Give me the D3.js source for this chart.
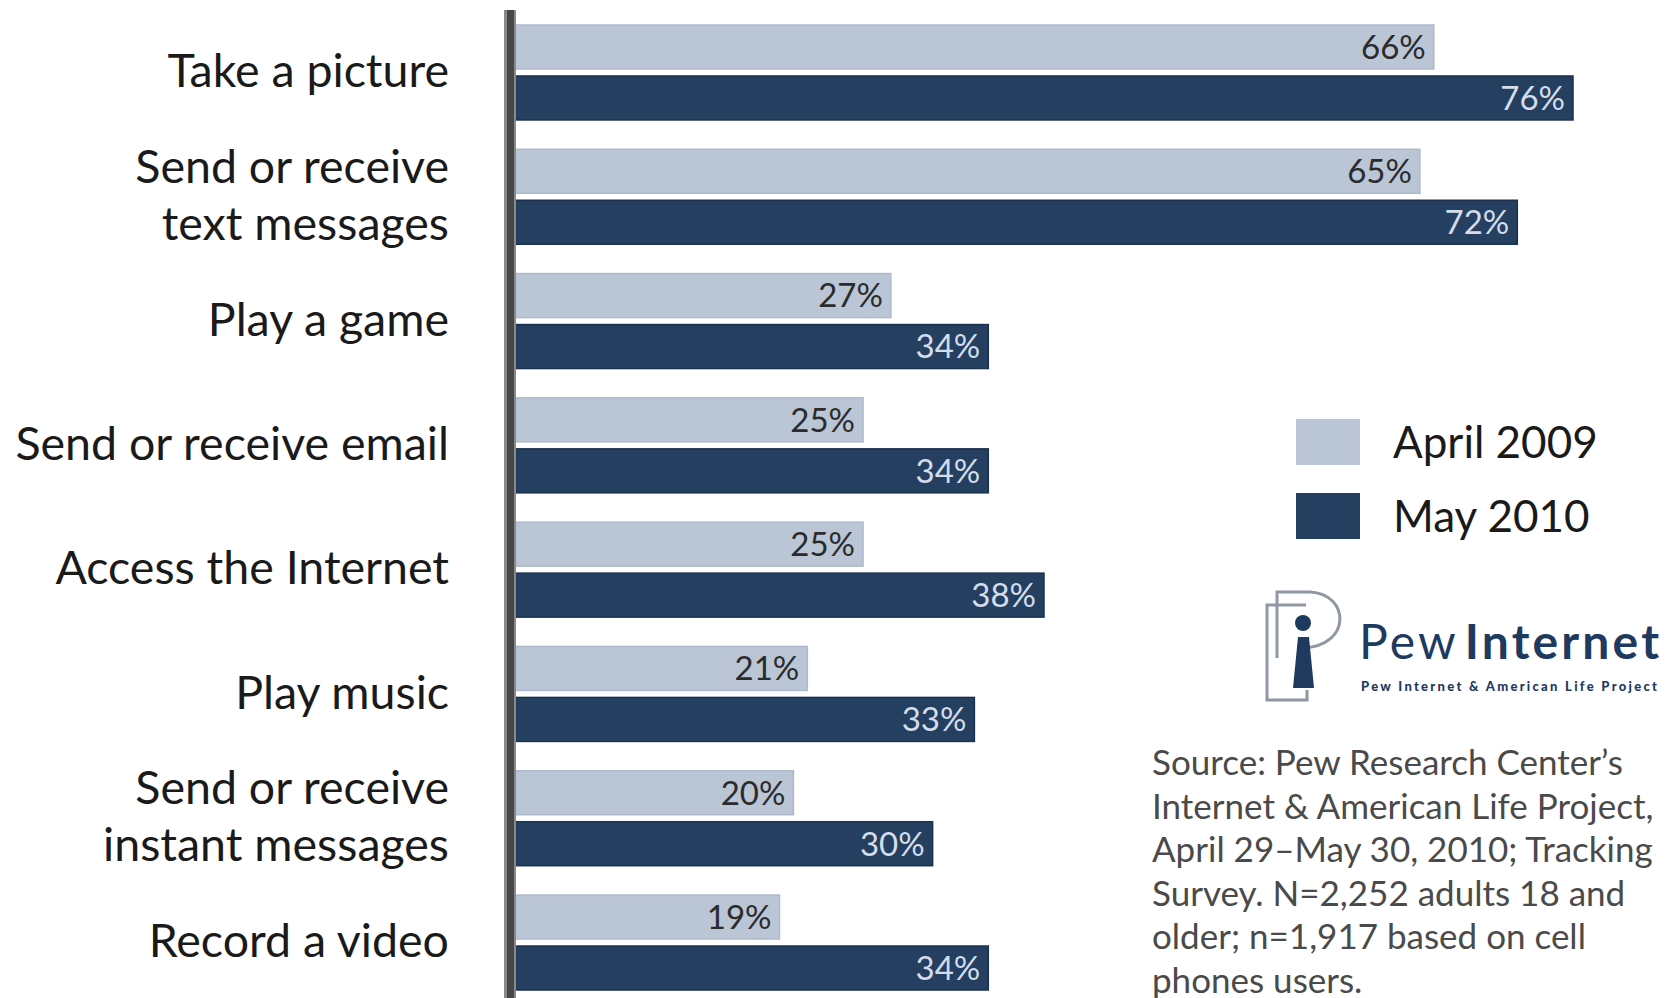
<!DOCTYPE html>
<html>
<head>
<meta charset="utf-8">
<script src="https://cdn.jsdelivr.net/npm/d3@7"></script>
<style>
    body { margin: 0; background: #ffffff; }
    svg { display: block; }
    text { font-family: Lato, "Open Sans", sans-serif; }
</style>
</head>
<body>
<svg id="chart"></svg>
<script>
/* =====
   DATA
==== */

const categories = [
    ["Take a picture"],
    ["Send or receive", "text messages"],
    ["Play a game"],
    ["Send or receive email"],
    ["Access the Internet"],
    ["Play music"],
    ["Send or receive", "instant messages"],
    ["Record a video"]
];
const seriesNames = ["April 2009", "May 2010"];
const april2009 = [66, 65, 27, 25, 25, 21, 20, 19];
const may2010 = [76, 72, 34, 34, 38, 33, 30, 34];

const sourceLines = [
    "Source: Pew Research Center’s",
    "Internet & American Life Project,",
    "April 29–May 30, 2010; Tracking",
    "Survey. N=2,252 adults 18 and",
    "older; n=1,917 based on cell",
    "phones users."
];

/* =====
   SETUP
==== */

const width = 1675;
const height = 998;
const colors = ["#bac5d6", "#243f60"];
const labelColors = ["#2b2b2b", "#d3ddeb"];

const svg = d3.select("#chart")
    .attr("width", width)
    .attr("height", height);

const rows = categories.map((c, i) => ({
    label: c,
    values: [april2009[i], may2010[i]]
}));

// scales
const y = d3.scaleBand()
    .domain(d3.range(categories.length))
    .range([25, 990])
    .paddingInner(0.236)
    .paddingOuter(0);

const ySeries = d3.scaleBand()
    .domain([0, 1])
    .range([0, y.bandwidth()])
    .paddingInner(0.137);

const x = d3.scaleLinear()
    .domain([0, 76])
    .range([515, 1573]);

/* =====
   BARS
==== */

const group = svg.selectAll(".group")
    .data(rows)
    .enter()
    .append("g")
    .attr("class", "group")
    .attr("transform", (d, i) => `translate(0, ${y(i)})`);

group.selectAll("rect")
    .data(d => d.values)
    .enter()
    .append("rect")
    .attr("x", x(0))
    .attr("y", (d, j) => ySeries(j))
    .attr("width", d => x(d) - x(0))
    .attr("height", ySeries.bandwidth())
    .attr("fill", (d, j) => colors[j])
    .attr("stroke", (d, j) => j === 0 ? "#aeb9cb" : "#1b3150")
    .attr("stroke-width", 1.5);

group.selectAll(".value")
    .data(d => d.values)
    .enter()
    .append("text")
    .attr("class", "value")
    .attr("x", d => x(d) - 8)
    .attr("y", (d, j) => ySeries(j) + ySeries.bandwidth() / 2)
    .attr("dy", "0.36em")
    .attr("text-anchor", "end")
    .style("font-size", "33px")
    .style("fill", (d, j) => labelColors[j])
    .text(d => d + "%");

// category labels (one or two lines)
group.each(function (d) {
    const t = d3.select(this).append("text")
        .attr("text-anchor", "end")
        .style("font-size", "46.5px")
        .style("fill", "#1a1a1a");
    const lineH = 57;
    const mid = y.bandwidth() / 2 - 2;
    d.label.forEach((line, k) => {
        t.append("tspan")
            .attr("x", 449)
            .attr("y", mid + (k - (d.label.length - 1) / 2) * lineH)
            .attr("dy", "0.36em")
            .text(line);
    });
});

// vertical axis line
svg.append("rect")
    .attr("x", 504)
    .attr("y", 10)
    .attr("width", 12)
    .attr("height", height - 10)
    .attr("fill", "#8a8a8a");
svg.append("rect")
    .attr("x", 507)
    .attr("y", 10)
    .attr("width", 7)
    .attr("height", height - 10)
    .attr("fill", "#474747");

/* =====
   LEGEND
==== */

const legend = svg.selectAll(".legend")
    .data(seriesNames)
    .enter()
    .append("g")
    .attr("class", "legend")
    .attr("transform", (d, i) => `translate(1296, ${419 + i * 74})`);

legend.append("rect")
    .attr("width", 64)
    .attr("height", 46)
    .attr("fill", (d, i) => colors[i]);

legend.append("text")
    .attr("x", 97)
    .attr("y", 23)
    .attr("dy", "0.36em")
    .style("font-size", "44px")
    .style("fill", "#1a1a1a")
    .text(d => d);

/* =====
   LOGO
==== */

const logo = svg.append("g");

logo.append("path")
    .attr("d", "M1277,658 L1277,592 L1310,592 C1350,594 1352,646 1303,648")
    .attr("fill", "none")
    .attr("stroke", "#8f97a3")
    .attr("stroke-width", 3);
logo.append("path")
    .attr("d", "M1306,605 L1267,605 L1267,700 L1307,700 L1307,690")
    .attr("fill", "none")
    .attr("stroke", "#8f97a3")
    .attr("stroke-width", 3);
logo.append("circle")
    .attr("cx", 1303)
    .attr("cy", 623)
    .attr("r", 8)
    .attr("fill", "#1f3a5f");
logo.append("path")
    .attr("d", "M1298,637 L1309,637 L1314,688 L1293,688 Z")
    .attr("fill", "#1f3a5f");

logo.append("text")
    .attr("x", 1359)
    .attr("y", 659)
    .attr("textLength", 300)
    .style("font-size", "48px")
    .style("fill", "#1f3a5f")
    .html('<tspan style="font-weight:400">Pew</tspan><tspan dx="6" style="font-weight:700">Internet</tspan>');

logo.append("text")
    .attr("x", 1361)
    .attr("y", 691)
    .attr("textLength", 296)
    .style("font-size", "13px")
    .style("font-weight", "900")
    .style("fill", "#1f3a5f")
    .text("Pew Internet & American Life Project");

/* =====
   SOURCE NOTE
==== */

svg.append("text")
    .style("font-size", "35px")
    .style("fill", "#4a4a4a")
    .selectAll("tspan")
    .data(sourceLines)
    .enter()
    .append("tspan")
    .attr("x", 1152)
    .attr("y", (d, i) => 775 + i * 43.5)
    .text(d => d);
</script>
</body>
</html>
